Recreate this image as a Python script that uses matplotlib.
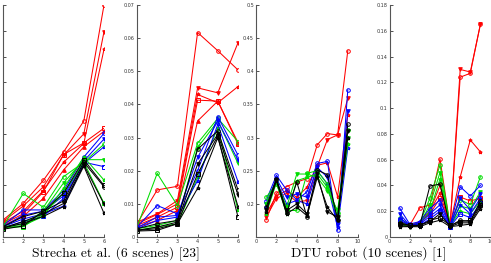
import matplotlib
matplotlib.use("Agg")
import matplotlib.pyplot as plt
from matplotlib.ticker import FormatStrFormatter, NullFormatter

# ---------------- data ----------------
x_strecha = [1, 2, 3, 4, 5, 6]
x_dtu = [1, 2, 3, 4, 5, 6, 7, 8, 9]

# Panel 1 (Strecha, first metric; axis labels cropped in the reference)
p1_red = [
    [0.66, 1.3, 2.2, 3.3, 4.5, 9.0],
    [0.6, 1.2, 1.95, 3.18, 4.0, 7.96],
    [0.55, 1.0, 1.8, 2.9, 3.63, 7.28],
    [0.5, 0.9, 1.76, 3.2, 3.65, 4.22],
    [0.45, 0.8, 1.5, 2.6, 3.5, 4.1],
]
p1_blue = [
    [0.45, 1.05, 1.05, 1.8, 3.1, 4.02],
    [0.4, 0.85, 1.0, 1.6, 2.95, 3.8],
    [0.4, 0.7, 0.9, 1.2, 2.85, 3.5],
    [0.35, 0.6, 0.8, 1.5, 2.9, 2.73],
]
p1_green = [
    [0.4, 1.69, 1.15, 2.34, 2.9, 3.6],
    [0.4, 0.5, 1.0, 2.1, 3.0, 3.0],
    [0.35, 0.45, 0.8, 1.9, 3.1, 2.21],
    [0.35, 0.4, 0.9, 1.7, 2.9, 1.31],
]
p1_black = [
    [0.4, 0.79, 1.0, 1.4, 2.9, 1.95],
    [0.35, 0.6, 0.9, 1.3, 2.8, 1.28],
    [0.35, 0.53, 0.8, 1.18, 2.75, 0.92],
    [0.3, 0.43, 1.0, 1.7, 3.0, 2.0],
]

# Panel 2 (Strecha, second metric)
p2_red = [
    [0.004, 0.0142, 0.0153, 0.0617, 0.0562, 0.0504],
    [0.0045, 0.007, 0.011, 0.045, 0.0435, 0.0586],
    [0.004, 0.0068, 0.010, 0.043, 0.0405, 0.0454],
    [0.0035, 0.006, 0.009, 0.0413, 0.041, 0.028],
    [0.003, 0.005, 0.008, 0.035, 0.041, 0.0285],
]
p2_green = [
    [0.003, 0.0192, 0.0095, 0.0283, 0.0358, 0.0288],
    [0.0025, 0.0035, 0.005, 0.027, 0.035, 0.0222],
    [0.002, 0.003, 0.004, 0.018, 0.033, 0.008],
]
p2_blue = [
    [0.003, 0.0095, 0.007, 0.020, 0.0363, 0.0247],
    [0.0028, 0.006, 0.0065, 0.024, 0.035, 0.0232],
    [0.0025, 0.005, 0.006, 0.017, 0.034, 0.0167],
]
p2_black = [
    [0.0025, 0.004, 0.005, 0.0265, 0.032, 0.0142],
    [0.002, 0.003, 0.0045, 0.022, 0.031, 0.0127],
    [0.002, 0.0025, 0.004, 0.0147, 0.030, 0.0092],
    [0.0018, 0.002, 0.004, 0.019, 0.0305, 0.006],
]

# Panel 3 (DTU robot, first metric)
p3_red = [
    [0.176, 0.216, 0.226, 0.233, 0.238, 0.289, 0.306, 0.304, 0.431],
    [0.180, 0.208, 0.216, 0.203, 0.205, 0.256, 0.297, 0.304, 0.359],
    [0.185, 0.212, 0.220, 0.210, 0.225, 0.258, 0.262, 0.211, 0.334],
]
p3_blue = [
    [0.205, 0.243, 0.221, 0.206, 0.218, 0.261, 0.264, 0.160, 0.372],
    [0.200, 0.238, 0.210, 0.215, 0.210, 0.255, 0.240, 0.170, 0.340],
    [0.195, 0.235, 0.200, 0.205, 0.200, 0.250, 0.230, 0.165, 0.284],
]
p3_green = [
    [0.210, 0.230, 0.190, 0.190, 0.246, 0.250, 0.230, 0.186, 0.311],
    [0.200, 0.235, 0.195, 0.245, 0.245, 0.240, 0.220, 0.190, 0.300],
    [0.185, 0.232, 0.185, 0.235, 0.240, 0.245, 0.225, 0.180, 0.290],
]
p3_black = [
    [0.195, 0.238, 0.186, 0.233, 0.180, 0.251, 0.244, 0.176, 0.320],
    [0.190, 0.236, 0.190, 0.200, 0.185, 0.245, 0.188, 0.180, 0.310],
    [0.188, 0.235, 0.185, 0.195, 0.182, 0.240, 0.195, 0.175, 0.300],
]

# Panel 4 (DTU robot, second metric)
p4_red = [
    [0.010, 0.009, 0.0227, 0.0248, 0.0605, 0.0085, 0.124, 0.127, 0.165],
    [0.012, 0.009, 0.010, 0.020, 0.040, 0.009, 0.130, 0.128, 0.165],
    [0.013, 0.009, 0.012, 0.020, 0.034, 0.009, 0.0466, 0.0753, 0.066],
    [0.012, 0.009, 0.011, 0.018, 0.030, 0.009, 0.031, 0.028, 0.030],
]
p4_green = [
    [0.015, 0.009, 0.011, 0.030, 0.056, 0.009, 0.029, 0.025, 0.0468],
    [0.012, 0.009, 0.010, 0.025, 0.050, 0.008, 0.024, 0.022, 0.035],
    [0.010, 0.008, 0.010, 0.020, 0.045, 0.009, 0.020, 0.018, 0.028],
]
p4_blue = [
    [0.0225, 0.010, 0.012, 0.022, 0.0287, 0.009, 0.039, 0.0318, 0.040],
    [0.018, 0.009, 0.011, 0.018, 0.025, 0.009, 0.030, 0.021, 0.033],
    [0.015, 0.009, 0.010, 0.016, 0.022, 0.008, 0.025, 0.018, 0.030],
    [0.013, 0.009, 0.009, 0.014, 0.020, 0.008, 0.018, 0.015, 0.026],
]
p4_black = [
    [0.011, 0.009, 0.009, 0.0396, 0.041, 0.0085, 0.013, 0.012, 0.028],
    [0.009, 0.008, 0.009, 0.012, 0.018, 0.008, 0.011, 0.011, 0.024],
    [0.008, 0.008, 0.008, 0.011, 0.013, 0.008, 0.009, 0.010, 0.022],
    [0.010, 0.009, 0.009, 0.013, 0.015, 0.009, 0.012, 0.013, 0.025],
]

captions = ["Strecha et al. (6 scenes) [23]", "DTU robot (10 scenes) [1]"]

# ---------------- drawing ----------------
markers = ['o', 'v', '*', 's', '^', '<', '>', 'd', 'x', '+']
colors = {'red': '#ff0000', 'blue': '#0000ff', 'green': '#00dd00', 'black': '#000000'}

fig = plt.figure(figsize=(4.91, 2.63), dpi=100)
W, H = 491.0, 263.0
bottom = (H - 237) / H
height = 232 / H
lefts = [3, 137, 256, 389.5]
widths = [101, 101, 102, 101]
axes = [fig.add_axes([l / W, bottom, w / W, height]) for l, w in zip(lefts, widths)]


def draw(ax, x, groups):
    for cname, series in groups:
        for i, ys in enumerate(series):
            m = markers[i % len(markers)]
            fill = colors[cname] if i % 3 == 1 else 'none'
            ax.plot(x, ys, color=colors[cname], lw=0.75, marker=m, ms=2.6,
                    mfc=fill, mew=0.7)


def style(ax):
    for s in ['top', 'right']:
        ax.spines[s].set_visible(False)
    for s in ['left', 'bottom']:
        ax.spines[s].set_color('#555555')
        ax.spines[s].set_linewidth(0.8)
    ax.tick_params(direction='in', length=2, width=0.6, labelsize=3.5,
                   colors='#333333', pad=1.5)


draw(axes[0], x_strecha, [('red', p1_red), ('blue', p1_blue),
                          ('green', p1_green), ('black', p1_black)])
draw(axes[1], x_strecha, [('red', p2_red), ('green', p2_green),
                          ('blue', p2_blue), ('black', p2_black)])
draw(axes[2], x_dtu, [('red', p3_red), ('blue', p3_blue),
                      ('green', p3_green), ('black', p3_black)])
draw(axes[3], x_dtu, [('red', p4_red), ('green', p4_green),
                      ('blue', p4_blue), ('black', p4_black)])

# Panel 1
ax = axes[0]
ax.set_xlim(1, 6)
ax.set_ylim(0, 9)
ax.set_xticks([1, 2, 3, 4, 5, 6])
ax.set_yticks(range(0, 10))
ax.yaxis.set_major_formatter(NullFormatter())
# Panel 2
ax = axes[1]
ax.set_xlim(1, 6)
ax.set_ylim(0, 0.07)
ax.set_xticks([1, 2, 3, 4, 5, 6])
ax.set_yticks([0, 0.01, 0.02, 0.03, 0.04, 0.05, 0.06, 0.07])
ax.yaxis.set_major_formatter(FormatStrFormatter('%g'))
# Panel 3
ax = axes[2]
ax.set_xlim(0, 10)
ax.set_ylim(0.15, 0.5)
ax.set_xticks([0, 2, 4, 6, 8, 10])
ax.set_yticks([0.2, 0.25, 0.3, 0.35, 0.4, 0.45, 0.5])
ax.yaxis.set_major_formatter(FormatStrFormatter('%g'))
# Panel 4
ax = axes[3]
ax.set_xlim(0, 10)
ax.set_ylim(0, 0.18)
ax.set_xticks([0, 2, 4, 6, 8, 10])
ax.set_yticks([0, 0.02, 0.04, 0.06, 0.08, 0.1, 0.12, 0.14, 0.16, 0.18])
ax.yaxis.set_major_formatter(FormatStrFormatter('%g'))

for ax in axes:
    style(ax)

fig.text(116 / W, 1 - 254 / H, captions[0], ha='center', va='center',
         fontsize=9.8, family=['cmr10', 'DejaVu Serif'])
fig.text(369 / W, 1 - 254 / H, captions[1], ha='center', va='center',
         fontsize=9.8, family=['cmr10', 'DejaVu Serif'])

fig.savefig('out.png', dpi=100)
